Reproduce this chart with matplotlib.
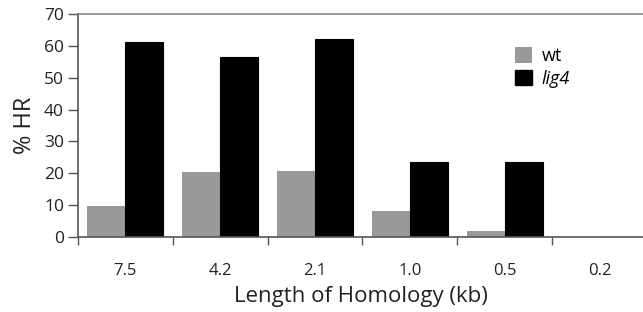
import matplotlib
matplotlib.use("Agg")
import matplotlib.pyplot as plt
import numpy as np
from matplotlib.patches import Patch

categories = ["7.5", "4.2", "2.1", "1.0", "0.5", "0.2"]
wt = [9.7, 20.5, 20.7, 8.2, 1.9, 0.0]
lig4 = [61.1, 56.6, 62.0, 23.6, 23.6, 0.0]

plt.rcParams['font.family'] = ['Open Sans', 'DejaVu Sans']

fig = plt.figure(figsize=(6.43, 3.12), dpi=100)
ax = fig.add_axes([78/643, 1 - 237/312, (643-78)/643, (237-14)/312])

x = np.arange(len(categories))
w = 0.4
ax.bar(x - w/2, wt, w, color='#999999', edgecolor='none', label='wt')
ax.bar(x + w/2, lig4, w, color='black', edgecolor='black', linewidth=0.8, label='lig4')

ax.set_ylim(0, 70)
ax.set_xlim(-0.5, -0.5 + 565/94.8)
ax.set_yticks(range(0, 71, 10))
ax.set_xticks(x)
ax.set_xticklabels(categories)
ax.set_xticks(np.arange(len(categories)) + 0.5 - 1, minor=True)
ax.tick_params(axis='x', which='major', length=0, pad=19, labelsize=12, labelcolor='#222222')
ax.tick_params(axis='x', which='minor', length=6, width=1, color='#555555', direction='out')
ax.tick_params(axis='y', length=7, width=1, color='#555555', labelsize=12.5, pad=3,
               labelcolor='#222222')

for s in ['left', 'bottom']:
    ax.spines[s].set_color('#555555')
    ax.spines[s].set_linewidth(1.2)
ax.spines['top'].set_color('#888888')
ax.spines['top'].set_linewidth(1.2)
ax.spines['right'].set_visible(False)

ax.set_ylabel('% HR', fontsize=17, labelpad=5, color='#222222')
ax.set_xlabel('Length of Homology (kb)', fontsize=16, labelpad=5, color='#222222')

handles = [Patch(facecolor='#999999', edgecolor='none', label='wt'),
           Patch(facecolor='black', edgecolor='black', label='lig4')]
leg = ax.legend(handles=handles, loc='upper left', bbox_to_anchor=(0.773, 0.852),
                frameon=False, fontsize=13, handlelength=0.95, handleheight=0.95,
                handletextpad=0.55, labelspacing=0.25, borderpad=0, borderaxespad=0)
leg.get_texts()[1].set_style('italic')

fig.savefig('out.png', dpi=100)
